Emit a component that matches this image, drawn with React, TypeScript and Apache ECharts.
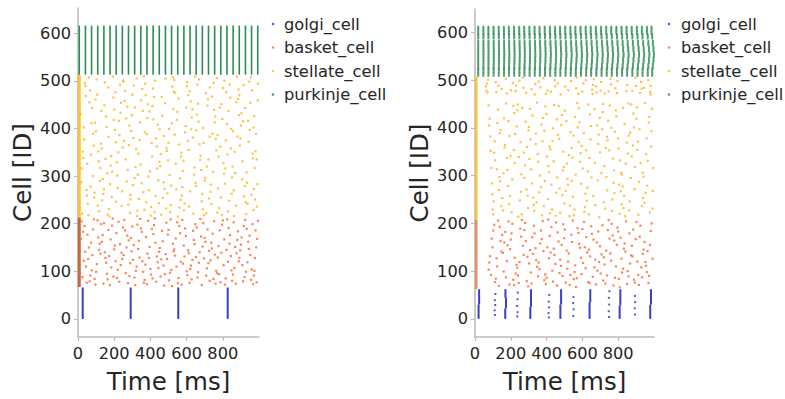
import React, { useEffect, useRef } from "react";
import * as echarts from "echarts";

const FONT = "'DejaVu Sans', sans-serif";
const TEXT = "#262626";
const SPINE = "#bdbdbd";

const populations = ["golgi_cell", "basket_cell", "stellate_cell", "purkinje_cell"];
const popColors = ["#3c3cc8", "#f4743c", "#fdb92e", "#2e8b57"];

const yTicks = [0, 100, 200, 300, 400, 500, 600];
const xTicks = [0, 200, 400, 600, 800];

// ---------- left panel ----------
const onsetL = 7;
const golgiRangeL = [0, 66];
const basketRangeL = [67, 213];
const stellateRangeL = [214, 512];
const purkinjeRangeL = [513, 616];
const golgiBurstsL = [26, 291, 554, 827];
const purkinjeBurstsL = [7, 41, 75, 109, 143, 177, 211, 245, 279, 313, 347, 381, 415, 449, 483, 517, 551, 585, 619, 653, 687, 721, 755, 789, 823, 857, 891, 925, 959, 993];

// [time, id, time, id, ...]
const basketSpikesL = [
  28,183, 12,97, 40,141, 20,205, 48,76, 32,122, 16,168, 44,110, 24,88, 36,195,
  80,134, 64,79, 52,177, 76,102, 60,150, 88,209, 68,91, 56,126, 84,188, 72,160,
  96,72, 116,145, 128,199, 104,115, 112,171, 92,84, 124,137, 108,207, 100,99, 120,158,
  168,187, 140,74, 152,128, 132,162, 160,95, 144,201, 156,118, 164,83, 136,176, 148,140,
  184,108, 204,154, 176,71, 188,196, 172,132, 196,89, 180,167, 208,121, 192,211, 200,146,
  228,78, 212,180, 240,139, 220,103, 248,192, 232,157, 216,86, 244,126, 224,204, 236,113,
  280,165, 264,96, 252,134, 276,75, 260,186, 288,117, 268,150, 256,208, 284,90, 272,175,
  296,142, 316,71, 328,198, 304,124, 312,87, 292,170, 324,110, 308,155, 300,194, 320,101,
  368,82, 340,129, 352,183, 332,147, 360,99, 344,210, 356,121, 364,76, 336,164, 348,190,
  384,137, 404,93, 376,172, 388,206, 372,114, 396,151, 380,73, 408,189, 392,128, 400,105,
  428,160, 412,85, 440,119, 420,197, 448,141, 432,78, 416,178, 444,107, 424,211, 436,131,
  480,94, 464,185, 452,149, 476,70, 460,125, 488,202, 468,163, 456,89, 484,136, 472,112,
  496,177, 516,103, 528,142, 504,81, 512,209, 492,126, 524,158, 508,97, 500,187, 520,69,
  568,120, 540,169, 552,75, 532,146, 560,195, 544,110, 556,86, 564,180, 536,133, 548,203,
  584,154, 604,92, 576,208, 588,131, 572,72, 596,174, 580,116, 608,144, 592,190, 600,100,
  628,83, 612,138, 640,166, 620,105, 648,199, 632,124, 616,76, 644,157, 624,112, 636,185,
  680,173, 664,98, 652,130, 676,210, 660,87, 688,152, 668,118, 656,192, 684,71, 672,140,
  696,127, 716,188, 728,80, 704,162, 712,106, 692,201, 724,143, 708,91, 700,170, 720,117,
  768,96, 740,148, 752,205, 732,123, 760,74, 744,179, 756,135, 764,101, 736,160, 748,84,
  784,186, 804,113, 776,153, 788,77, 772,129, 796,198, 780,94, 808,167, 792,139, 800,207,
  828,120, 812,72, 840,176, 820,145, 848,102, 832,191, 816,85, 844,132, 824,209, 836,158,
  880,166, 864,107, 852,80, 876,138, 860,203, 888,121, 868,151, 856,93, 884,184, 872,74,
  896,144, 916,195, 928,99, 904,171, 912,79, 892,128, 924,208, 908,113, 900,156, 920,88,
  968,73, 940,162, 952,134, 932,189, 960,104, 944,147, 956,82, 964,199, 936,119, 948,175,
  984,150, 972,91, 994,206, 978,128, 990,168, 975,101, 987,77, 981,186,
];

const stellateSpikesL = [
  32,402, 17,287, 44,468, 11,233, 26,351, 38,495, 20,316, 49,259, 14,430, 35,377, 23,221, 41,489, 29,338, 47,271,
  63,455, 81,300, 54,242, 75,411, 87,364, 60,507, 69,278, 51,326, 78,443, 57,218, 84,389, 66,480, 89,255, 72,345,
  124,317, 106,471, 118,226, 100,394, 91,265, 112,352, 129,437, 103,503, 121,290, 94,412, 109,238, 127,368, 97,461, 115,331,
  134,249, 169,382, 149,497, 161,306, 155,425, 143,272, 131,358, 164,219, 146,449, 152,336, 167,486, 137,294, 158,403, 140,262,
  198,418, 171,231, 183,342, 207,476, 177,283, 204,397, 192,509, 186,256, 209,371, 180,322, 201,440, 174,215, 195,465, 189,309,
  247,360, 232,492, 220,275, 226,416, 241,237, 214,329, 238,454, 217,301, 229,386, 249,501, 211,246, 235,433, 223,350, 244,268,
  260,479, 275,313, 287,223, 254,374, 272,446, 269,289, 284,406, 278,240, 251,498, 263,335, 266,421, 289,260, 281,365, 257,458,
  312,296, 297,428, 324,505, 291,251, 306,380, 318,319, 300,471, 329,227, 294,395, 315,444, 303,281, 321,357, 309,490, 327,216,
  343,413, 361,266, 334,347, 355,483, 367,229, 340,376, 349,459, 331,303, 358,437, 337,252, 364,510, 346,324, 369,392, 352,285,
  404,235, 386,451, 398,310, 380,388, 371,494, 392,270, 409,341, 383,422, 401,217, 374,470, 389,299, 407,369, 377,245, 395,436,
  414,484, 449,330, 429,258, 441,408, 435,362, 423,224, 411,447, 444,291, 426,500, 432,379, 447,243, 417,419, 438,316, 420,466,
  478,273, 451,398, 463,466, 487,232, 457,346, 484,505, 472,287, 466,427, 489,359, 460,219, 481,453, 454,321, 475,384, 469,254,
  527,441, 512,239, 500,370, 506,302, 521,488, 494,264, 518,411, 497,333, 509,224, 529,477, 491,353, 515,280, 503,399, 524,508,
  540,326, 555,463, 567,250, 534,387, 552,215, 549,435, 564,295, 558,366, 531,502, 543,272, 546,418, 569,341, 561,234, 537,475,
  592,392, 577,277, 604,497, 571,349, 586,228, 598,444, 580,311, 609,470, 574,259, 595,405, 583,332, 601,489, 589,242, 607,374,
  623,457, 641,303, 614,236, 635,381, 647,509, 620,268, 629,423, 611,355, 638,221, 617,478, 644,318, 626,398, 649,286, 632,440,
  684,247, 666,414, 678,343, 660,492, 651,279, 672,367, 689,230, 663,452, 681,313, 654,396, 669,503, 687,262, 657,429, 675,334,
  694,370, 729,486, 709,222, 721,335, 715,448, 703,296, 691,401, 724,253, 706,474, 712,320, 727,383, 697,218, 718,461, 700,290,
  758,425, 731,267, 743,389, 767,506, 737,241, 764,354, 752,439, 746,309, 769,223, 740,467, 761,378, 734,282, 755,413, 749,496,
  807,305, 792,451, 780,233, 786,362, 801,485, 774,274, 798,420, 777,341, 789,255, 809,500, 771,386, 795,218, 783,444, 804,327,
  820,476, 835,248, 847,399, 814,316, 832,437, 829,226, 844,358, 838,492, 811,284, 823,409, 826,345, 849,263, 841,465, 817,375,
  872,238, 857,394, 884,462, 851,297, 866,351, 878,509, 860,270, 889,428, 854,320, 875,455, 863,216, 881,383, 869,306, 887,482,
  903,432, 921,279, 894,364, 915,491, 927,245, 900,406, 909,331, 891,470, 918,257, 897,379, 924,443, 906,293, 929,220, 912,415,
  964,347, 946,498, 958,261, 940,416, 931,308, 952,454, 969,229, 943,372, 961,480, 934,286, 949,397, 967,337, 937,242, 955,507,
  984,389, 972,273, 993,459, 976,317, 989,236, 974,426, 981,352, 995,494, 978,251, 987,335, 971,402, 991,283,
];

// ---------- right panel ----------
const onsetR = 7;
const basketRangeR = [62, 208];
const stellateRangeR = [209, 508];
// [time, idLow, idHigh]
const golgiDenseR = [
  [20, 0, 30], [23, 30, 62],
  [169, 0, 22], [173, 22, 44], [170, 44, 62],
  [309, 0, 25], [313, 25, 62],
  [477, 0, 30], [481, 30, 62],
  [640, 0, 35], [644, 35, 62],
  [808, 0, 28], [812, 28, 62],
  [979, 0, 30], [983, 30, 62],
];
const golgiSparseR = [
  112,8, 110,18, 113,29, 111,39, 114,52,
  236,5, 238,14, 235,27, 237,41, 239,55,
  413,3, 411,12, 414,24, 412,36, 415,50,
  549,6, 551,20, 548,33, 550,46,
  749,4, 747,16, 750,30, 748,44, 751,58,
  894,9, 892,22, 895,35, 893,48,
];
const purkinjeBurstsR = [18, 47, 75, 104, 133, 162, 190, 219, 248, 276, 305, 334, 362, 391, 420, 449, 477, 506, 535, 563, 592, 621, 649, 678, 707, 736, 764, 793, 822, 850, 879, 908, 936, 965, 990];
// [idLow, idHigh, drift in ms per burst]
const purkinjeBandsR = [
  [509, 524, 0.0], [525, 536, 0.1], [537, 548, 0.2], [549, 560, 0.28],
  [561, 572, 0.2], [573, 584, 0.1], [587, 596, 0.0], [597, 613, -0.12],
];

const basketSpikesR = [
  93,168, 76,103, 107,197, 84,131, 112,77, 98,150, 80,118, 102,185, 89,92,
  147,141, 129,206, 116,84, 142,163, 124,110, 152,176, 133,69, 120,127, 138,193,
  160,99, 182,154, 192,72, 169,182, 178,121, 156,138, 187,204, 173,87, 164,160,
  232,113, 204,179, 218,71, 196,146, 227,95, 209,199, 222,128, 200,166, 213,82,
  253,189, 236,107, 267,153, 244,75, 272,134, 258,172, 240,91, 262,207, 249,119,
  307,144, 289,79, 276,186, 302,116, 284,163, 312,97, 293,130, 280,201, 298,68,
  320,171, 342,123, 352,89, 329,195, 338,148, 316,74, 347,109, 333,179, 324,136,
  392,93, 364,158, 378,205, 356,118, 387,81, 369,185, 382,142, 360,104, 373,167,
  413,127, 396,73, 427,192, 404,150, 432,101, 418,174, 400,86, 422,139, 409,208,
  467,162, 449,115, 436,78, 462,181, 444,134, 472,96, 453,202, 440,147, 458,70,
  480,111, 502,187, 512,143, 489,90, 498,169, 476,124, 507,76, 493,198, 484,155,
  552,83, 524,137, 538,176, 516,105, 547,206, 529,71, 542,161, 520,120, 533,92,
  573,190, 556,98, 587,149, 564,67, 592,128, 578,180, 560,112, 582,157, 569,85,
  627,139, 609,203, 596,94, 622,171, 604,117, 632,77, 613,150, 600,188, 618,106,
  640,75, 662,166, 672,124, 649,194, 658,88, 636,145, 667,108, 653,178, 644,131,
  712,196, 684,101, 698,152, 676,72, 707,135, 689,183, 702,95, 680,160, 693,119,
  733,143, 716,80, 747,207, 724,114, 752,168, 738,91, 720,129, 742,186, 729,74,
  787,110, 769,175, 756,137, 782,86, 764,199, 792,155, 773,70, 760,122, 778,164,
  800,183, 822,97, 832,147, 809,66, 818,126, 796,191, 827,105, 813,170, 804,84,
  872,133, 844,204, 858,89, 836,158, 867,116, 849,73, 862,179, 840,141, 853,100,
  893,76, 876,153, 907,120, 884,187, 912,92, 898,167, 880,131, 902,203, 889,82,
  947,161, 929,108, 916,71, 942,145, 924,195, 952,119, 933,87, 920,172, 938,136,
  960,98, 982,184, 992,126, 969,75, 978,155, 956,111, 987,200, 973,90, 964,142,
];

const stellateSpikesR = [
  61,487, 64,478, 67,493, 88,352, 94,284, 82,419, 99,229, 73,501, 91,316, 76,447, 97,261, 85,382, 70,474, 79,405,
  113,332, 131,488, 104,246, 125,410, 137,297, 110,372, 119,475, 101,219, 128,438, 107,348, 134,270, 116,496, 139,389, 122,313,
  174,451, 156,227, 168,364, 150,482, 141,288, 162,420, 179,337, 153,253, 171,503, 144,396, 159,305, 177,472, 147,236, 165,359,
  184,278, 219,431, 199,341, 211,494, 205,223, 193,383, 181,312, 214,446, 196,257, 202,479, 217,354, 187,414, 208,292, 190,240,
  248,499, 221,326, 233,403, 257,266, 227,477, 254,370, 242,214, 236,437, 259,303, 230,489, 251,248, 224,387, 245,339, 239,449,
  297,232, 282,413, 270,484, 276,295, 291,360, 264,442, 288,271, 267,505, 279,321, 299,395, 261,219, 285,473, 273,348, 294,258,
  310,376, 325,254, 337,492, 304,335, 322,426, 319,284, 334,470, 328,239, 301,402, 313,313, 316,481, 339,366, 331,226, 307,440,
  362,300, 347,453, 374,217, 341,388, 356,497, 368,276, 350,345, 379,421, 344,244, 365,485, 353,329, 371,407, 359,265, 377,372,
  393,445, 411,320, 384,236, 405,478, 417,361, 390,289, 399,429, 381,504, 408,251, 387,394, 414,307, 396,471, 419,221, 402,340,
  454,264, 436,399, 448,487, 430,229, 421,355, 442,448, 459,296, 433,373, 451,216, 424,476, 439,330, 457,418, 427,281, 445,500,
  464,385, 499,242, 479,470, 491,311, 485,427, 473,273, 461,493, 494,350, 476,222, 482,406, 497,318, 467,446, 488,259, 470,377,
  528,215, 501,436, 513,325, 537,498, 507,268, 534,391, 522,479, 516,293, 539,358, 510,414, 531,237, 504,487, 525,343, 519,281,
  577,471, 562,302, 550,384, 556,229, 571,452, 544,338, 568,505, 547,256, 559,423, 579,370, 541,289, 565,483, 553,217, 574,401,
  590,347, 605,493, 617,262, 584,412, 602,315, 599,476, 614,234, 608,389, 581,441, 593,283, 596,362, 619,500, 611,224, 587,329,
  642,428, 627,275, 654,480, 621,353, 636,219, 648,404, 630,309, 659,490, 624,247, 645,376, 633,449, 651,296, 639,337, 657,471,
  673,238, 691,386, 664,502, 685,290, 697,421, 670,327, 679,474, 661,257, 688,366, 667,439, 694,213, 676,487, 699,349, 682,405,
  734,297, 716,450, 728,231, 710,397, 701,478, 722,320, 739,269, 713,433, 731,358, 704,496, 719,244, 737,381, 707,305, 725,472,
  744,415, 779,263, 759,491, 771,336, 765,226, 753,447, 741,374, 774,285, 756,503, 762,400, 777,311, 747,476, 768,250, 750,353,
  808,220, 781,392, 793,473, 817,306, 787,437, 814,267, 802,357, 796,498, 819,240, 790,424, 811,332, 784,483, 805,281, 799,378,
  857,451, 842,325, 830,232, 836,408, 851,490, 824,277, 848,369, 827,442, 839,215, 859,384, 821,302, 845,477, 833,258, 854,346,
  870,295, 885,430, 897,505, 864,246, 882,363, 879,478, 894,318, 888,401, 861,227, 873,449, 876,340, 899,488, 891,272, 867,390,
  922,473, 907,354, 934,236, 901,419, 916,287, 928,496, 910,371, 939,253, 904,443, 925,326, 913,218, 931,482, 919,397, 937,306,
  953,264, 971,411, 944,484, 965,331, 977,223, 950,452, 959,378, 941,298, 968,500, 947,243, 974,423, 956,345, 979,475, 962,279,
  986,393, 992,231, 982,488, 995,316, 989,440, 984,361, 993,268, 981,470,
];

// ---------- helpers ----------
function pairs(flat: number[]): number[][] {
  const out: number[][] = [];
  for (let i = 0; i + 1 < flat.length; i += 2) out.push([flat[i], flat[i + 1]]);
  return out;
}

function vSeg(width: number) {
  return (_params: any, api: any) => {
    const top = api.coord([api.value(0), api.value(2)]);
    const bot = api.coord([api.value(0), api.value(1)]);
    return {
      type: "rect",
      shape: { x: top[0] - width / 2, y: top[1], width, height: bot[1] - top[1] },
      style: { fill: api.visual("color") },
    };
  };
}

function segSeries(name: string, idx: number, data: number[][], width: number, color: string, opacity = 1) {
  return {
    type: "custom",
    name,
    xAxisIndex: idx,
    yAxisIndex: idx,
    silent: true,
    data,
    encode: { x: 0, y: [1, 2] },
    renderItem: vSeg(width),
    itemStyle: { color, opacity },
  };
}

function dotSeries(name: string, idx: number, data: number[][], size: number, color: string, opacity = 0.85) {
  return {
    type: "scatter",
    name,
    xAxisIndex: idx,
    yAxisIndex: idx,
    silent: true,
    symbol: "rect",
    symbolSize: size,
    progressive: 0,
    data,
    itemStyle: { color, opacity },
  };
}

function purkinjeRightPoints(): number[][] {
  const pts: number[][] = [];
  for (const [lo, hi, drift] of purkinjeBandsR) {
    for (let id = lo; id <= hi; id += 3) {
      purkinjeBurstsR.forEach((t, k) => pts.push([t + drift * k, id]));
    }
  }
  return pts;
}

function xAxisCfg(gridIndex: number) {
  return {
    type: "value",
    gridIndex,
    min: 0,
    max: 1000,
    name: "Time [ms]",
    nameLocation: "middle",
    nameGap: 32,
    nameTextStyle: { fontSize: 24.5, color: TEXT, fontFamily: FONT },
    axisLine: { show: true, onZero: false, lineStyle: { color: SPINE, width: 1.6 } },
    axisTick: { show: true, length: 4, lineStyle: { color: SPINE, width: 1.2 }, customValues: xTicks },
    axisLabel: { fontSize: 16.2, color: TEXT, fontFamily: FONT, margin: 8, customValues: xTicks },
    splitLine: { show: false },
  };
}

function yAxisCfg(gridIndex: number, min: number, max: number) {
  return {
    type: "value",
    gridIndex,
    min,
    max,
    name: "Cell [ID]",
    nameLocation: "middle",
    nameGap: 43,
    nameTextStyle: { fontSize: 24.5, color: TEXT, fontFamily: FONT },
    axisLine: { show: true, onZero: false, lineStyle: { color: SPINE, width: 1.6 } },
    axisTick: { show: true, length: 4, lineStyle: { color: SPINE, width: 1.2 }, customValues: yTicks },
    axisLabel: { fontSize: 16.2, color: TEXT, fontFamily: FONT, margin: 7, customValues: yTicks },
    splitLine: { show: false },
  };
}

function legendGraphics(markerX: number, textX: number, top: number, step: number) {
  const els: any[] = [];
  populations.forEach((name, i) => {
    const y = top + i * step;
    els.push({ type: "circle", shape: { cx: markerX, cy: y, r: 1.3 }, style: { fill: popColors[i], opacity: 0.8 }, silent: true });
    els.push({
      type: "text",
      x: textX,
      y,
      style: { text: name, fontSize: 16.3, fill: TEXT, fontFamily: FONT, verticalAlign: "middle", align: "left" },
      silent: true,
    });
  });
  return els;
}

export default function App() {
  const ref = useRef<HTMLDivElement>(null);
  useEffect(() => {
    if (!ref.current) return;
    const chart = echarts.init(ref.current, null, { renderer: "svg" });
    const [cG, cB, cS, cP] = popColors;
    const series: any[] = [
      // left
      segSeries("golgi_cell", 0, golgiBurstsL.map((t) => [t, golgiRangeL[0], golgiRangeL[1]]), 2, cG, 0.9),
      segSeries("basket_cell", 0, [[onsetL, basketRangeL[0], basketRangeL[1]]], 3, "#c8683c"),
      dotSeries("basket_cell", 0, pairs(basketSpikesL), 2.2, cB),
      segSeries("stellate_cell", 0, [[onsetL, stellateRangeL[0], stellateRangeL[1]]], 3, "#ffc233"),
      dotSeries("stellate_cell", 0, pairs(stellateSpikesL), 2.2, cS),
      segSeries("purkinje_cell", 0, purkinjeBurstsL.map((t) => [t, purkinjeRangeL[0], purkinjeRangeL[1]]), 1.6, cP, 0.85),
      // right
      segSeries("golgi_cell", 1, golgiDenseR, 2, cG, 0.8),
      dotSeries("golgi_cell", 1, pairs(golgiSparseR), 2, cG),
      segSeries("basket_cell", 1, [[onsetR, basketRangeR[0], basketRangeR[1]]], 2.5, "#f08a60"),
      dotSeries("basket_cell", 1, pairs(basketSpikesR), 2.2, cB),
      segSeries("stellate_cell", 1, [[onsetR, stellateRangeR[0], stellateRangeR[1]]], 2.5, "#ffc233"),
      dotSeries("stellate_cell", 1, pairs(stellateSpikesR), 2.2, cS),
      dotSeries("purkinje_cell", 1, purkinjeRightPoints(), 1.9, cP, 0.8),
    ];
    chart.setOption({
      animation: false,
      backgroundColor: "#ffffff",
      textStyle: { fontFamily: FONT },
      grid: [
        { left: 78, top: 8, width: 181, height: 329 },
        { left: 475, top: 9, width: 179, height: 328 },
      ],
      xAxis: [xAxisCfg(0), xAxisCfg(1)],
      yAxis: [yAxisCfg(0, -38, 653), yAxisCfg(1, -38, 649)],
      series,
      graphic: [...legendGraphics(273, 284, 24, 23.5), ...legendGraphics(669, 681, 24, 23.5)],
    });
    return () => chart.dispose();
  }, []);
  return (
    <div
      ref={ref}
      style={{ position: "fixed", left: 0, top: 0, width: 785, height: 399, background: "#fff" }}
    />
  );
}
